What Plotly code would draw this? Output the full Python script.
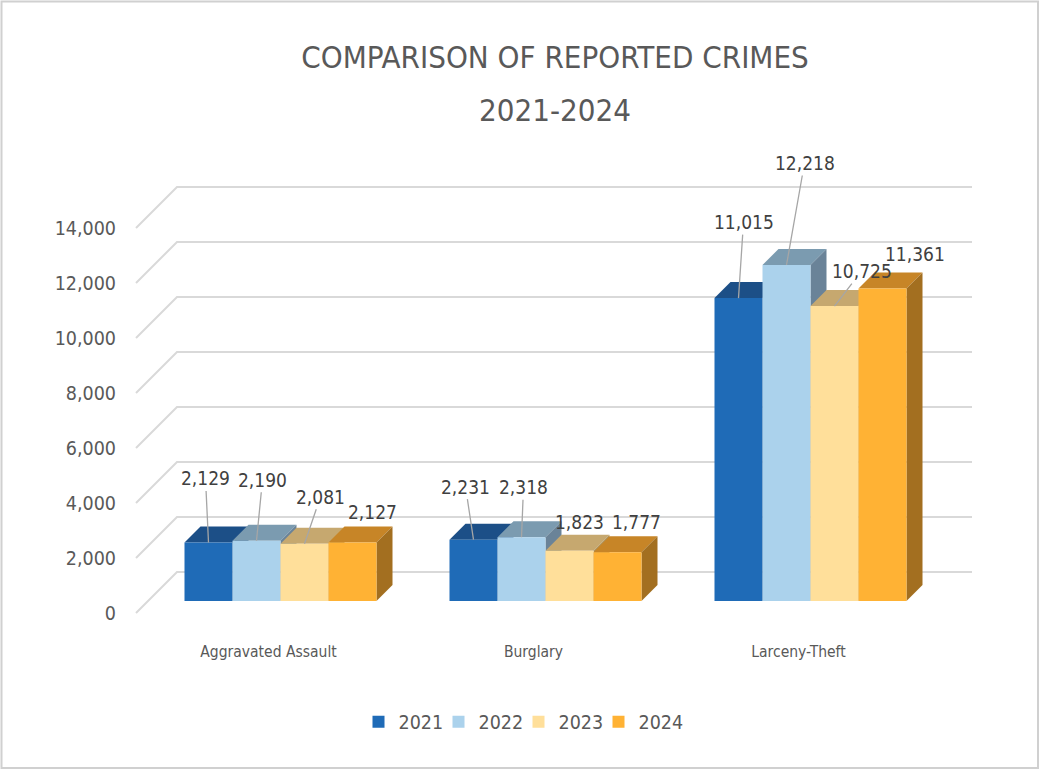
import plotly.graph_objects as go

categories = ["Aggravated Assault", "Burglary", "Larceny-Theft"]
years = ["2021", "2022", "2023", "2024"]
crimes_2021 = [2129, 2231, 11015]
crimes_2022 = [2190, 2318, 12218]
crimes_2023 = [2081, 1823, 10725]
crimes_2024 = [2127, 1777, 11361]
y_ticks = [0, 2000, 4000, 6000, 8000, 10000, 12000, 14000]

series = [crimes_2021, crimes_2022, crimes_2023, crimes_2024]

# front / top / side colours per year
front_col = ["#1f6bb7", "#abd2ec", "#ffdf9a", "#ffb234"]
top_col = ["#1c4f87", "#7b9bb0", "#c6a86f", "#c78527"]
side_col = ["#174373", "#6a8398", "#b0935b", "#a36f20"]

FONT = "DejaVu Sans Condensed, DejaVu Sans, sans-serif"
GREY = "#595959"

# page geometry (pixels)
W, H = 1040, 771
L, R, T, B = 120, 50, 150, 141
plot_w, plot_h = W - L - R, H - T - B
px_cat = 265.0          # pixels per category
px_val = 55.0 / 2000    # pixels per crime
x_lo = -(280.5 - L) / px_cat
y_lo = -(T + plot_h - 601) / px_val
x_rng = [x_lo, x_lo + plot_w / px_cat]
y_rng = [y_lo, y_lo + plot_h / px_val]


def dx(p):
    return p / px_cat


def dy(p):
    return p / px_val


group_w = dx(192)
bar_w = group_w / 4
depth = 16      # bar depth
wall = 29       # bar plane -> back wall
front = 12      # bar plane -> front plane

fig = go.Figure()
shapes = []

# back wall gridlines with the diagonal floor edge
for v in y_ticks:
    xa, ya = -0.5 - dx(front), v - dy(front)
    xb, yb = -0.5 + dx(wall), v + dy(wall)
    xc = 2.5 + dx(wall)
    shapes.append(dict(type="path", xref="x", yref="y", layer="below",
                       path=f"M{xa},{ya} L{xb},{yb} L{xc},{yb}",
                       line=dict(color="#d9d9d9", width=2)))

for i, vals in enumerate(series):
    off = -group_w / 2 + i * bar_w
    fig.add_trace(go.Bar(
        x=[0, 1, 2], y=vals, name=years[i], width=bar_w, offset=off,
        marker=dict(color=front_col[i], line=dict(width=0)),
        hoverinfo="x+y+name",
        legendwidth=46 if i == len(series) - 1 else None,
    ))

# 3D top and side faces, drawn left to right
for c in range(len(categories)):
    for i, vals in enumerate(series):
        v = vals[c]
        x0 = c - group_w / 2 + i * bar_w
        x1 = x0 + bar_w
        ddx, ddy = dx(depth), dy(depth)
        shapes.append(dict(type="path", xref="x", yref="y", layer="below",
                           path=f"M{x0},{v} L{x1},{v} L{x1 + ddx},{v + ddy} L{x0 + ddx},{v + ddy} Z",
                           fillcolor=top_col[i], line=dict(width=0)))
        shapes.append(dict(type="path", xref="x", yref="y", layer="below",
                           path=f"M{x1},0 L{x1},{v} L{x1 + ddx},{v + ddy} L{x1 + ddx},{ddy} Z",
                           fillcolor=side_col[i], line=dict(width=0)))

# outer frame
shapes.append(dict(type="rect", xref="paper", yref="paper",
                   x0=(1.5 - L) / plot_w, x1=(1038 - L) / plot_w,
                   y0=(T + plot_h - 768) / plot_h, y1=(T + plot_h - 1.5) / plot_h,
                   line=dict(color="#d0d0d0", width=2), layer="above"))

# data label placement: (pixel dx, pixel dy, leader line)
label_offsets = [
    [(-3, -64, True), (6, -61, True), (16, -47, True), (20, -31, False)],
    [(-8, -53, True), (2, -50, True), (10, -29, False), (19, -30, False)],
    [(5, -76, True), (18, -102, True), (27, -35, True), (32, -35, False)],
]

annotations = []
for c in range(len(categories)):
    for i, vals in enumerate(series):
        v = vals[c]
        xc = c - group_w / 2 + (i + 0.5) * bar_w
        ox, oy, line = label_offsets[c][i]
        a = dict(x=xc, y=v, xref="x", yref="y", text=f"{v:,}",
                 font=dict(family=FONT, size=19, color="#404040"))
        if line:
            a.update(showarrow=True, ax=ox, ay=oy, arrowhead=0,
                     arrowwidth=1.3, arrowcolor="#a6a6a6")
        else:
            a.update(showarrow=False, xshift=ox, yshift=-oy)
        annotations.append(a)

# second title line
annotations.append(dict(text="2021-2024", xref="paper", yref="paper",
                        x=0.5, y=(T + plot_h - 110) / plot_h,
                        xanchor="center", yanchor="middle", showarrow=False,
                        font=dict(family=FONT, size=31, color=GREY)))

fig.update_layout(
    width=W, height=H,
    margin=dict(l=L, r=R, t=T, b=B, autoexpand=False),
    paper_bgcolor="white", plot_bgcolor="white",
    barmode="overlay",
    title=dict(text="COMPARISON OF REPORTED CRIMES",
               x=0.5, xanchor="center", xref="paper",
               y=1 - 57 / H, yanchor="middle", yref="container",
               font=dict(family=FONT, size=31, color=GREY)),
    font=dict(family=FONT, color=GREY),
    xaxis=dict(range=x_rng, tickvals=[0, 1, 2], ticktext=categories,
               showgrid=False, zeroline=False, showline=False, ticks="",
               tickfont=dict(family=FONT, size=15.5, color=GREY),
               ticklabelshift=-12, ticklabelstandoff=10),
    yaxis=dict(range=y_rng, tickvals=y_ticks, tickformat=",",
               showgrid=False, zeroline=False, showline=False, ticks="",
               tickfont=dict(family=FONT, size=19.5, color=GREY),
               ticklabelshift=12, ticklabelstandoff=3),
    legend=dict(orientation="h", x=(524 - L) / plot_w, xanchor="center",
                y=(T + plot_h - 722) / plot_h, yanchor="middle",
                entrywidth=35, entrywidthmode="pixels",
                font=dict(family=FONT, size=19.5, color=GREY)),
    shapes=shapes,
    annotations=annotations,
    showlegend=True,
)

fig.write_html("out.html", config={"displayModeBar": False},
               post_script="document.body.style.margin='0';")
